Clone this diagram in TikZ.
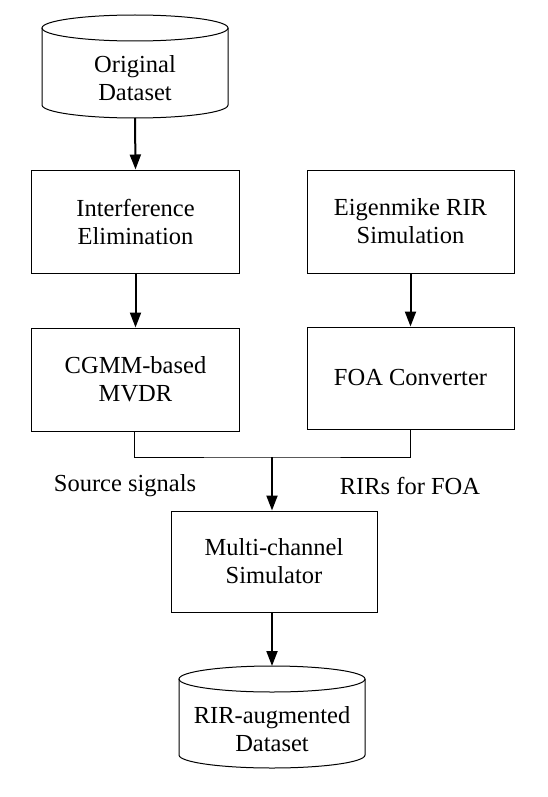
\documentclass[tikz,border=0pt]{standalone}
\usepackage{fontspec}
\setmainfont{Liberation Serif}
\usetikzlibrary{arrows.meta}
\begin{document}
\begin{tikzpicture}[x=1bp,y=-1bp,
  txt/.style={font=\fontsize{24.5bp}{28bp}\selectfont, align=center, inner sep=0pt},
  blk/.style={draw, line width=1bp, minimum width=207bp, minimum height=103bp, txt},
  arr/.style={line width=2bp, -{Triangle[width=11bp,length=15bp]}},
  lnk/.style={line width=1bp},
  cyl/.style={draw, line width=1bp}]
\useasboundingbox (0,0) rectangle (548,797);
% top cylinder
\coordinate (c1l) at (42,28);
\coordinate (c1r) at (228,28);
\draw[cyl] (135,28) ellipse [x radius=93bp, y radius=13bp];
\draw[cyl] (c1l) -- (42,105) arc [start angle=180, end angle=360, x radius=93bp, y radius=13bp] -- (c1r);
\node[txt] (orig) at (135,78) {Original\\Dataset};
\coordinate (c1b) at (135,118);
% boxes
\node[blk] (ie) at (135.5,221.5) {Interference\\Elimination};
\node[blk] (cg) at (135.5,379.5) {CGMM-based\\MVDR};
\node[blk] (ei) at (410.5,221.5) {Eigenmike RIR\\Simulation};
\node[blk, minimum height=102bp] (foa) at (410.5,378) {FOA Converter};
\node[blk, minimum width=206bp, minimum height=101bp] (mc) at (274,561.5) {Multi-channel\\Simulator};
% bottom cylinder
\draw[cyl] (272,679) ellipse [x radius=93bp, y radius=13bp];
\draw[cyl] (179,679) -- (179,755) arc [start angle=180, end angle=360, x radius=93bp, y radius=13bp] -- (365,679);
\coordinate (c2t) at (272,666);
\node[txt] (rir) at (272,729) {RIR-augmented\\Dataset};
% labels
\node[txt] (src) at (125,486) {Source signals};
\node[txt] (rfoa) at (410,486) {RIRs for FOA};
% connectors
\coordinate (j) at (272,457);
\draw[arr] (c1b) -- (ie.north);
\draw[arr] (ie.south) -- (cg.north);
\draw[arr] (ei.south) -- (foa.north);
\draw[lnk] (cg.south -| 134,0) |- (j) -| (foa.south);
\draw[arr] (j) -- (mc.north -| j);
\draw[arr] (mc.south -| c2t) -- (c2t);
\end{tikzpicture}
\end{document}
